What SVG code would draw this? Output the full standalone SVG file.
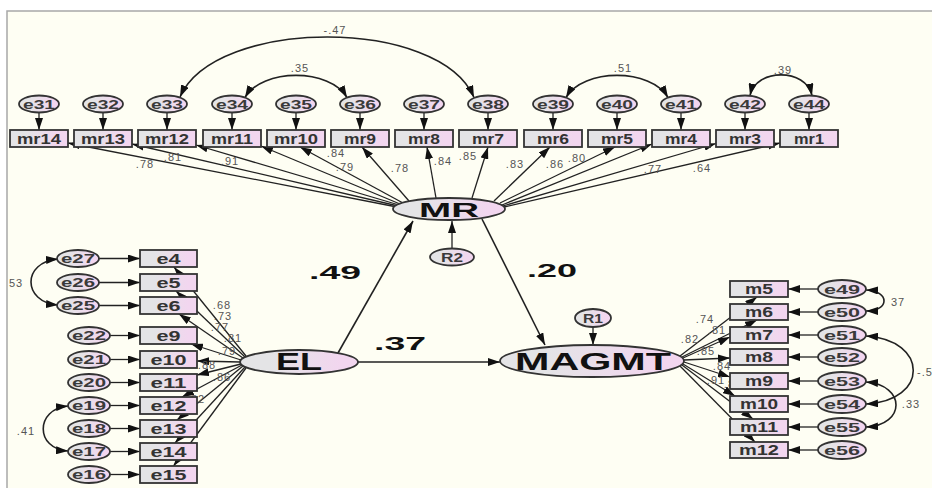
<svg xmlns="http://www.w3.org/2000/svg" width="932" height="488" viewBox="0 0 932 488">
<defs>
<linearGradient id="fillG" x1="0" y1="0" x2="1" y2="0">
<stop offset="0.25" stop-color="#e4e4e6"/>
<stop offset="0.85" stop-color="#f2d6ef"/>
</linearGradient>
<marker id="ah" viewBox="0 0 12 8" refX="12" refY="4" markerWidth="12" markerHeight="8" markerUnits="userSpaceOnUse" orient="auto-start-reverse">
<path d="M0,0 L12,4 L0,8 z" fill="#111"/>
</marker>
<style>
.box{fill:url(#fillG);stroke:#333;stroke-width:1.8}
.ell{fill:url(#fillG);stroke:#333;stroke-width:1.8}
.nt{font-family:"Liberation Sans",Arial,sans-serif;font-weight:bold;fill:#333;text-anchor:middle;font-size:14px}
.et{font-family:"Liberation Sans",Arial,sans-serif;font-weight:bold;fill:#3a3a3a;text-anchor:middle;font-size:13px}
.lat{font-family:"Liberation Sans",Arial,sans-serif;font-weight:bold;fill:#111;text-anchor:middle}
.lbl{font-family:"Liberation Sans",Arial,sans-serif;font-size:11px;fill:#555;text-anchor:middle;letter-spacing:1px}
.big{font-family:"Liberation Sans",Arial,sans-serif;font-weight:bold;font-size:19px;fill:#111;text-anchor:middle}
.c{fill:none;stroke:#222;stroke-width:1.3;marker-end:url(#ah)}
.s{fill:none;stroke:#222;stroke-width:1.6;marker-end:url(#ah)}
.cv{fill:none;stroke:#222;stroke-width:1.6;marker-start:url(#ah);marker-end:url(#ah)}
</style>
</defs>

<!-- page and panel -->
<rect x="0" y="0" width="932" height="488" fill="#ffffff"/>
<rect x="7" y="11" width="940" height="490" fill="#fefef3" stroke="#a8a8a8" stroke-width="1.5"/>

<!-- paths, loadings, residual arrows and covariances -->
<g id="connectors">
  <!-- residuals into MR indicators -->
  <path class="c" d="M39,112.5 L39,130"/>
  <path class="c" d="M103,112.5 L103,130"/>
  <path class="c" d="M167,112.5 L167,130"/>
  <path class="c" d="M232,112.5 L232,130"/>
  <path class="c" d="M296,112.5 L296,130"/>
  <path class="c" d="M360,112.5 L360,130"/>
  <path class="c" d="M424,112.5 L424,130"/>
  <path class="c" d="M488,112.5 L488,130"/>
  <path class="c" d="M553,112.5 L553,130"/>
  <path class="c" d="M617,112.5 L617,130"/>
  <path class="c" d="M681,112.5 L681,130"/>
  <path class="c" d="M745,112.5 L745,130"/>
  <path class="c" d="M809,112.5 L809,130"/>
  <!-- MR loadings -->
  <path class="c" d="M397,207 L68,143"/>
  <path class="c" d="M398,206 L132,144"/>
  <path class="c" d="M399,205 L196,145"/>
  <path class="c" d="M400,204 L261,146"/>
  <path class="c" d="M403,203 L300,147"/>
  <path class="c" d="M409,201 L362,147"/>
  <path class="c" d="M436,198 L427,147"/>
  <path class="c" d="M472,198 L488,147"/>
  <path class="c" d="M494,201 L550,147"/>
  <path class="c" d="M500,203 L615,147"/>
  <path class="c" d="M502,205 L652,144"/>
  <path class="c" d="M503,206 L716,143.5"/>
  <path class="c" d="M504,207 L780,143"/>
  <!-- covariances between MR residuals -->
  <path class="cv" d="M180,97 C215,17 440,17 474,97.5"/>
  <path class="cv" d="M245,97.5 C262,68 330,68 347,97.5"/>
  <path class="cv" d="M566,97.5 C583,68 651,68 668,97.5"/>
  <path class="cv" d="M750,95.5 C756,68 806,68 812,95.5"/>

  <!-- residuals into EL indicators -->
  <path class="c" d="M99,258.5 L140,258.5"/>
  <path class="c" d="M99,282.5 L140,282.5"/>
  <path class="c" d="M99,305.5 L140,305.5"/>
  <path class="c" d="M110,335.5 L140,335.5"/>
  <path class="c" d="M110,359.5 L140,359.5"/>
  <path class="c" d="M110,382.5 L140,382.5"/>
  <path class="c" d="M110,405.5 L140,405.5"/>
  <path class="c" d="M110,428.5 L140,428.5"/>
  <path class="c" d="M110,451.5 L140,451.5"/>
  <path class="c" d="M110,474.5 L140,474.5"/>
  <!-- EL loadings -->
  <path class="c" d="M246,356 L174,267"/>
  <path class="c" d="M245,357 L176,291"/>
  <path class="c" d="M243,358 L179,314"/>
  <path class="c" d="M241,360 L191,344"/>
  <path class="c" d="M240,362 L197,361"/>
  <path class="c" d="M241,364 L197,375"/>
  <path class="c" d="M242,365 L182,397"/>
  <path class="c" d="M243,366 L177,420"/>
  <path class="c" d="M245,367 L175,443"/>
  <path class="c" d="M246,368 L173.5,466"/>
  <!-- covariances between EL residuals -->
  <path class="cv" d="M58,259 C22,262 22,302 58,305"/>
  <path class="cv" d="M68,406 C35,409 35,449 68,451"/>

  <!-- residuals into MAGMT indicators -->
  <path class="c" d="M818,289 L788,289"/>
  <path class="c" d="M818,312 L788,312"/>
  <path class="c" d="M818,335 L788,335"/>
  <path class="c" d="M818,357 L788,357"/>
  <path class="c" d="M818,381 L788,381"/>
  <path class="c" d="M818,404 L788,404"/>
  <path class="c" d="M818,427 L788,427"/>
  <path class="c" d="M818,450 L788,450"/>
  <!-- MAGMT loadings -->
  <path class="c" d="M680,356 L757,297"/>
  <path class="c" d="M682,357 L757,320"/>
  <path class="c" d="M683,358 L730,337"/>
  <path class="c" d="M684,360 L730,358"/>
  <path class="c" d="M684,362 L730,377"/>
  <path class="c" d="M683,364 L735,396"/>
  <path class="c" d="M682,365 L753,419"/>
  <path class="c" d="M680,366 L755,442"/>
  <!-- covariances between MAGMT residuals -->
  <path class="cv" d="M866,290 C890,291 890,311 866,311"/>
  <path class="cv" d="M866,336 C929,340 929,401 866,404"/>
  <path class="cv" d="M866,382 C906,385 906,425 866,427"/>

  <!-- structural paths -->
  <path class="s" d="M338,353 L413,221"/>
  <path class="s" d="M482,219 L545,345"/>
  <path class="s" d="M358,362 L500,362"/>
  <path class="c" d="M452,248.5 L452,221"/>
  <path class="c" d="M593,327 L593,345"/>
</g>

<!-- coefficient labels -->
<g id="coefficients">
  <text class="lbl" x="335" y="34">-.47</text>
  <text class="lbl" x="300" y="72">.35</text>
  <text class="lbl" x="623" y="72">.51</text>
  <text class="lbl" x="783" y="74">.39</text>
  <text class="lbl" x="145" y="168">.78</text>
  <text class="lbl" x="173" y="161">.81</text>
  <text class="lbl" x="230" y="165">.91</text>
  <text class="lbl" x="336" y="157">.84</text>
  <text class="lbl" x="345" y="171">.79</text>
  <text class="lbl" x="400" y="172">.78</text>
  <text class="lbl" x="443" y="165">.84</text>
  <text class="lbl" x="468" y="160">.85</text>
  <text class="lbl" x="515" y="168">.83</text>
  <text class="lbl" x="555" y="168">.86</text>
  <text class="lbl" x="577" y="162">.80</text>
  <text class="lbl" x="653" y="173">.77</text>
  <text class="lbl" x="702" y="172">.64</text>

  <text class="lbl" x="16" y="287">53</text>
  <text class="lbl" x="26" y="435">.41</text>
  <text class="lbl" x="222" y="309">.68</text>
  <text class="lbl" x="223" y="320">.73</text>
  <text class="lbl" x="220" y="331">.77</text>
  <text class="lbl" x="233" y="342">.81</text>
  <text class="lbl" x="227" y="355">.79</text>
  <text class="lbl" x="207" y="369">.88</text>
  <text class="lbl" x="222" y="381">.86</text>
  <text class="lbl" x="190" y="391">.85</text>
  <text class="lbl" x="196" y="403">.82</text>

  <text class="lbl" x="705" y="323">.74</text>
  <text class="lbl" x="717" y="334">.81</text>
  <text class="lbl" x="690" y="343">.82</text>
  <text class="lbl" x="706" y="355">.85</text>
  <text class="lbl" x="722" y="370">.84</text>
  <text class="lbl" x="716" y="384">.91</text>
  <text class="lbl" x="733" y="388">.86</text>
  <text class="lbl" x="898" y="306">37</text>
  <text class="lbl" x="925" y="376">-.5</text>
  <text class="lbl" x="911" y="408">.33</text>

  <text class="big" x="335" y="279" textLength="52" lengthAdjust="spacingAndGlyphs">.49</text>
  <text class="big" x="552" y="277" textLength="50" lengthAdjust="spacingAndGlyphs">.20</text>
  <text class="big" x="400" y="350" textLength="52" lengthAdjust="spacingAndGlyphs">.37</text>
</g>

<!-- latent variables -->
<g id="MR"><ellipse class="ell" cx="449" cy="209" rx="56" ry="11"/><text class="lat" x="449" y="217" font-size="21" textLength="60" lengthAdjust="spacingAndGlyphs">MR</text></g>
<g id="R2"><ellipse class="ell" cx="452" cy="257" rx="22" ry="8.5"/><text class="et" x="452" y="261.5" font-size="12" textLength="22" lengthAdjust="spacingAndGlyphs">R2</text></g>
<g id="EL"><ellipse class="ell" cx="299" cy="362" rx="59" ry="12"/><text class="lat" x="299" y="370" font-size="23" textLength="46" lengthAdjust="spacingAndGlyphs">EL</text></g>
<g id="MAGMT"><ellipse class="ell" cx="592" cy="361" rx="92" ry="16"/><text class="lat" x="593" y="369.5" font-size="23" textLength="156" lengthAdjust="spacingAndGlyphs">MAGMT</text></g>
<g id="R1"><ellipse class="ell" cx="593" cy="318" rx="18" ry="9"/><text class="et" x="593" y="322.5" font-size="12" textLength="20" lengthAdjust="spacingAndGlyphs">R1</text></g>

<!-- MR indicators -->
<g id="mr14"><rect class="box" x="10" y="130" width="58" height="17"/><text class="nt" x="39" y="143.5" textLength="44" lengthAdjust="spacingAndGlyphs">mr14</text></g>
<g id="mr13"><rect class="box" x="74" y="130" width="58" height="17"/><text class="nt" x="103" y="143.5" textLength="44" lengthAdjust="spacingAndGlyphs">mr13</text></g>
<g id="mr12"><rect class="box" x="138" y="130" width="58" height="17"/><text class="nt" x="167" y="143.5" textLength="44" lengthAdjust="spacingAndGlyphs">mr12</text></g>
<g id="mr11"><rect class="box" x="203" y="130" width="58" height="17"/><text class="nt" x="232" y="143.5" textLength="42" lengthAdjust="spacingAndGlyphs">mr11</text></g>
<g id="mr10"><rect class="box" x="267" y="130" width="58" height="17"/><text class="nt" x="296" y="143.5" textLength="44" lengthAdjust="spacingAndGlyphs">mr10</text></g>
<g id="mr9"><rect class="box" x="331" y="130" width="58" height="17"/><text class="nt" x="360" y="143.5" textLength="32" lengthAdjust="spacingAndGlyphs">mr9</text></g>
<g id="mr8"><rect class="box" x="395" y="130" width="58" height="17"/><text class="nt" x="424" y="143.5" textLength="32" lengthAdjust="spacingAndGlyphs">mr8</text></g>
<g id="mr7"><rect class="box" x="459" y="130" width="58" height="17"/><text class="nt" x="488" y="143.5" textLength="32" lengthAdjust="spacingAndGlyphs">mr7</text></g>
<g id="mr6"><rect class="box" x="524" y="130" width="58" height="17"/><text class="nt" x="553" y="143.5" textLength="32" lengthAdjust="spacingAndGlyphs">mr6</text></g>
<g id="mr5"><rect class="box" x="588" y="130" width="58" height="17"/><text class="nt" x="617" y="143.5" textLength="32" lengthAdjust="spacingAndGlyphs">mr5</text></g>
<g id="mr4"><rect class="box" x="652" y="130" width="58" height="17"/><text class="nt" x="681" y="143.5" textLength="32" lengthAdjust="spacingAndGlyphs">mr4</text></g>
<g id="mr3"><rect class="box" x="716" y="130" width="58" height="17"/><text class="nt" x="745" y="143.5" textLength="32" lengthAdjust="spacingAndGlyphs">mr3</text></g>
<g id="mr1"><rect class="box" x="780" y="130" width="58" height="17"/><text class="nt" x="809" y="143.5" textLength="30" lengthAdjust="spacingAndGlyphs">mr1</text></g>

<!-- MR residuals -->
<g id="e31"><ellipse class="ell" cx="39" cy="104" rx="20" ry="8.5"/><text class="et" x="39" y="108.5" textLength="32" lengthAdjust="spacingAndGlyphs">e31</text></g>
<g id="e32"><ellipse class="ell" cx="103" cy="104" rx="20" ry="8.5"/><text class="et" x="103" y="108.5" textLength="32" lengthAdjust="spacingAndGlyphs">e32</text></g>
<g id="e33"><ellipse class="ell" cx="167" cy="104" rx="20" ry="8.5"/><text class="et" x="167" y="108.5" textLength="32" lengthAdjust="spacingAndGlyphs">e33</text></g>
<g id="e34"><ellipse class="ell" cx="232" cy="104" rx="20" ry="8.5"/><text class="et" x="232" y="108.5" textLength="32" lengthAdjust="spacingAndGlyphs">e34</text></g>
<g id="e35"><ellipse class="ell" cx="296" cy="104" rx="20" ry="8.5"/><text class="et" x="296" y="108.5" textLength="32" lengthAdjust="spacingAndGlyphs">e35</text></g>
<g id="e36"><ellipse class="ell" cx="360" cy="104" rx="20" ry="8.5"/><text class="et" x="360" y="108.5" textLength="32" lengthAdjust="spacingAndGlyphs">e36</text></g>
<g id="e37"><ellipse class="ell" cx="424" cy="104" rx="20" ry="8.5"/><text class="et" x="424" y="108.5" textLength="32" lengthAdjust="spacingAndGlyphs">e37</text></g>
<g id="e38"><ellipse class="ell" cx="488" cy="104" rx="20" ry="8.5"/><text class="et" x="488" y="108.5" textLength="32" lengthAdjust="spacingAndGlyphs">e38</text></g>
<g id="e39"><ellipse class="ell" cx="553" cy="104" rx="20" ry="8.5"/><text class="et" x="553" y="108.5" textLength="32" lengthAdjust="spacingAndGlyphs">e39</text></g>
<g id="e40"><ellipse class="ell" cx="617" cy="104" rx="20" ry="8.5"/><text class="et" x="617" y="108.5" textLength="32" lengthAdjust="spacingAndGlyphs">e40</text></g>
<g id="e41"><ellipse class="ell" cx="681" cy="104" rx="20" ry="8.5"/><text class="et" x="681" y="108.5" textLength="32" lengthAdjust="spacingAndGlyphs">e41</text></g>
<g id="e42"><ellipse class="ell" cx="745" cy="104" rx="20" ry="8.5"/><text class="et" x="745" y="108.5" textLength="32" lengthAdjust="spacingAndGlyphs">e42</text></g>
<g id="e44"><ellipse class="ell" cx="809" cy="104" rx="20" ry="8.5"/><text class="et" x="809" y="108.5" textLength="32" lengthAdjust="spacingAndGlyphs">e44</text></g>

<!-- EL indicators -->
<g id="e4"><rect class="box" x="140" y="250" width="57" height="17"/><text class="nt" x="168.5" y="263.5" textLength="24" lengthAdjust="spacingAndGlyphs">e4</text></g>
<g id="e5"><rect class="box" x="140" y="274" width="57" height="17"/><text class="nt" x="168.5" y="287.5" textLength="24" lengthAdjust="spacingAndGlyphs">e5</text></g>
<g id="e6"><rect class="box" x="140" y="297" width="57" height="17"/><text class="nt" x="168.5" y="310.5" textLength="24" lengthAdjust="spacingAndGlyphs">e6</text></g>
<g id="e9"><rect class="box" x="140" y="327" width="57" height="17"/><text class="nt" x="168.5" y="340.5" textLength="24" lengthAdjust="spacingAndGlyphs">e9</text></g>
<g id="e10"><rect class="box" x="140" y="351" width="57" height="17"/><text class="nt" x="168.5" y="364.5" textLength="36" lengthAdjust="spacingAndGlyphs">e10</text></g>
<g id="e11"><rect class="box" x="140" y="374" width="57" height="17"/><text class="nt" x="168.5" y="387.5" textLength="36" lengthAdjust="spacingAndGlyphs">e11</text></g>
<g id="e12"><rect class="box" x="140" y="397" width="57" height="17"/><text class="nt" x="168.5" y="410.5" textLength="36" lengthAdjust="spacingAndGlyphs">e12</text></g>
<g id="e13"><rect class="box" x="140" y="420" width="57" height="17"/><text class="nt" x="168.5" y="433.5" textLength="36" lengthAdjust="spacingAndGlyphs">e13</text></g>
<g id="e14"><rect class="box" x="140" y="443" width="57" height="17"/><text class="nt" x="168.5" y="456.5" textLength="36" lengthAdjust="spacingAndGlyphs">e14</text></g>
<g id="e15"><rect class="box" x="140" y="466" width="57" height="17"/><text class="nt" x="168.5" y="479.5" textLength="36" lengthAdjust="spacingAndGlyphs">e15</text></g>

<!-- EL residuals -->
<g id="e27"><ellipse class="ell" cx="78" cy="258.5" rx="21" ry="8.5"/><text class="et" x="78" y="263" textLength="34" lengthAdjust="spacingAndGlyphs">e27</text></g>
<g id="e26"><ellipse class="ell" cx="78" cy="282.5" rx="21" ry="8.5"/><text class="et" x="78" y="287" textLength="34" lengthAdjust="spacingAndGlyphs">e26</text></g>
<g id="e25"><ellipse class="ell" cx="78" cy="305.5" rx="21" ry="8.5"/><text class="et" x="78" y="310" textLength="34" lengthAdjust="spacingAndGlyphs">e25</text></g>
<g id="e22"><ellipse class="ell" cx="89" cy="335.5" rx="21" ry="8.5"/><text class="et" x="89" y="340" textLength="34" lengthAdjust="spacingAndGlyphs">e22</text></g>
<g id="e21"><ellipse class="ell" cx="89" cy="359.5" rx="21" ry="8.5"/><text class="et" x="89" y="364" textLength="34" lengthAdjust="spacingAndGlyphs">e21</text></g>
<g id="e20"><ellipse class="ell" cx="89" cy="382.5" rx="21" ry="8.5"/><text class="et" x="89" y="387" textLength="34" lengthAdjust="spacingAndGlyphs">e20</text></g>
<g id="e19"><ellipse class="ell" cx="89" cy="405.5" rx="21" ry="8.5"/><text class="et" x="89" y="410" textLength="34" lengthAdjust="spacingAndGlyphs">e19</text></g>
<g id="e18"><ellipse class="ell" cx="89" cy="428.5" rx="21" ry="8.5"/><text class="et" x="89" y="433" textLength="34" lengthAdjust="spacingAndGlyphs">e18</text></g>
<g id="e17"><ellipse class="ell" cx="89" cy="451.5" rx="21" ry="8.5"/><text class="et" x="89" y="456" textLength="34" lengthAdjust="spacingAndGlyphs">e17</text></g>
<g id="e16"><ellipse class="ell" cx="89" cy="474.5" rx="21" ry="8.5"/><text class="et" x="89" y="479" textLength="34" lengthAdjust="spacingAndGlyphs">e16</text></g>

<!-- MAGMT indicators -->
<g id="m5"><rect class="box" x="730" y="281" width="58" height="16"/><text class="nt" x="759" y="294" textLength="28" lengthAdjust="spacingAndGlyphs">m5</text></g>
<g id="m6"><rect class="box" x="730" y="304" width="58" height="16"/><text class="nt" x="759" y="317" textLength="28" lengthAdjust="spacingAndGlyphs">m6</text></g>
<g id="m7"><rect class="box" x="730" y="327" width="58" height="16"/><text class="nt" x="759" y="340" textLength="28" lengthAdjust="spacingAndGlyphs">m7</text></g>
<g id="m8"><rect class="box" x="730" y="349" width="58" height="16"/><text class="nt" x="759" y="362" textLength="28" lengthAdjust="spacingAndGlyphs">m8</text></g>
<g id="m9"><rect class="box" x="730" y="373" width="58" height="16"/><text class="nt" x="759" y="386" textLength="28" lengthAdjust="spacingAndGlyphs">m9</text></g>
<g id="m10"><rect class="box" x="730" y="396" width="58" height="16"/><text class="nt" x="759" y="409" textLength="38" lengthAdjust="spacingAndGlyphs">m10</text></g>
<g id="m11"><rect class="box" x="730" y="419" width="58" height="16"/><text class="nt" x="759" y="432" textLength="38" lengthAdjust="spacingAndGlyphs">m11</text></g>
<g id="m12"><rect class="box" x="730" y="442" width="58" height="16"/><text class="nt" x="759" y="455" textLength="40" lengthAdjust="spacingAndGlyphs">m12</text></g>

<!-- MAGMT residuals -->
<g id="e49"><ellipse class="ell" cx="842" cy="289" rx="24" ry="9"/><text class="et" x="842" y="293.5" textLength="36" lengthAdjust="spacingAndGlyphs">e49</text></g>
<g id="e50"><ellipse class="ell" cx="842" cy="312" rx="24" ry="9"/><text class="et" x="842" y="316.5" textLength="36" lengthAdjust="spacingAndGlyphs">e50</text></g>
<g id="e51"><ellipse class="ell" cx="842" cy="335" rx="24" ry="9"/><text class="et" x="842" y="339.5" textLength="36" lengthAdjust="spacingAndGlyphs">e51</text></g>
<g id="e52"><ellipse class="ell" cx="842" cy="357" rx="24" ry="9"/><text class="et" x="842" y="361.5" textLength="36" lengthAdjust="spacingAndGlyphs">e52</text></g>
<g id="e53"><ellipse class="ell" cx="842" cy="381" rx="24" ry="9"/><text class="et" x="842" y="385.5" textLength="36" lengthAdjust="spacingAndGlyphs">e53</text></g>
<g id="e54"><ellipse class="ell" cx="842" cy="404" rx="24" ry="9"/><text class="et" x="842" y="408.5" textLength="36" lengthAdjust="spacingAndGlyphs">e54</text></g>
<g id="e55"><ellipse class="ell" cx="842" cy="427" rx="24" ry="9"/><text class="et" x="842" y="431.5" textLength="36" lengthAdjust="spacingAndGlyphs">e55</text></g>
<g id="e56"><ellipse class="ell" cx="842" cy="450" rx="24" ry="9"/><text class="et" x="842" y="454.5" textLength="36" lengthAdjust="spacingAndGlyphs">e56</text></g>
</svg>
